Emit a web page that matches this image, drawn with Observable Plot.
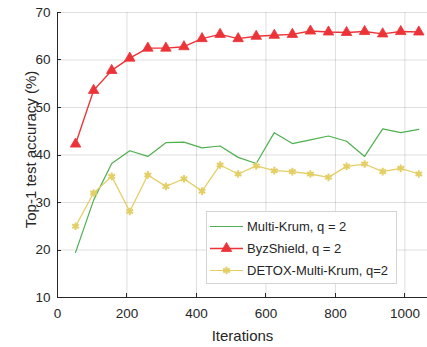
<!DOCTYPE html>
<html>
<head>
<meta charset="utf-8">
<script src="https://cdn.jsdelivr.net/npm/d3@7"></script>
<script src="https://cdn.jsdelivr.net/npm/@observablehq/plot@0.6"></script>
<style>
  html, body { margin: 0; padding: 0; background: #fff; }
  #chart { position: relative; width: 427px; height: 347px; }
</style>
</head>
<body>
<div id="chart"></div>
<script>
const iterations = [52, 104, 156, 208, 260, 312, 364, 416, 468, 520, 572, 624, 676, 728, 780, 832, 884, 936, 988, 1040];
const multiKrum = [19.5, 30.5, 38.2, 40.9, 39.7, 42.6, 42.7, 41.5, 41.9, 39.5, 38.2, 44.7, 42.4, 43.2, 44.0, 42.9, 39.7, 45.5, 44.7, 45.4];
const byzShield = [42.3, 53.6, 57.8, 60.4, 62.5, 62.5, 62.8, 64.5, 65.4, 64.5, 65.0, 65.2, 65.4, 66.1, 65.9, 65.8, 66.0, 65.5, 66.0, 65.9];
const detox = [25.0, 32.0, 35.5, 28.1, 35.8, 33.4, 35.0, 32.4, 37.9, 36.0, 37.7, 36.7, 36.5, 36.0, 35.3, 37.6, 38.1, 36.5, 37.2, 36.0];
const seriesNames = ["Multi-Krum, q = 2", "ByzShield, q = 2", "DETOX-Multi-Krum, q=2"];
const seriesColors = ["#4fb04f", "#ec3338", "#e3cf66"];
const xTicks = [0, 200, 400, 600, 800, 1000];
const yTicks = [10, 20, 30, 40, 50, 60, 70];
const xLabel = "Iterations";
const yLabel = "Top-1 test accuracy (%)";

const mk = iterations.map((x, i) => ({x, y: multiKrum[i]}));
const bz = iterations.map((x, i) => ({x, y: byzShield[i]}));
const dt = iterations.map((x, i) => ({x, y: detox[i]}));

const ink = "#262626";
const plot = Plot.plot({
  width: 427, height: 347,
  marginLeft: 57, marginRight: 0, marginTop: 12, marginBottom: 50,
  x: {domain: [0, 1065]},
  y: {domain: [10, 70]},
  style: {fontFamily: "'Liberation Sans', Arial, sans-serif", fontSize: "13.5px", color: ink, background: "#fff"},
  marks: [
    Plot.gridX(xTicks.slice(1), {stroke: ink, strokeOpacity: 0.15}),
    Plot.gridY(yTicks.slice(1), {stroke: ink, strokeOpacity: 0.15}),
    Plot.line(mk, {x: "x", y: "y", stroke: seriesColors[0], strokeWidth: 1.2}),
    Plot.line(bz, {x: "x", y: "y", stroke: seriesColors[1], strokeWidth: 1.4}),
    Plot.dot(bz, {x: "x", y: "y", symbol: "triangle", r: 3.9, fill: seriesColors[1], stroke: seriesColors[1], strokeWidth: 0.8}),
    Plot.line(dt, {x: "x", y: "y", stroke: seriesColors[2], strokeWidth: 1.3}),
    Plot.dot(dt, {x: "x", y: "y", symbol: "asterisk", r: 3.6, stroke: seriesColors[2], strokeWidth: 2}),
    Plot.axisX(xTicks, {tickSize: 0, tickPadding: 11, label: null, fill: ink, tickFormat: d => String(d)}),
    Plot.axisY(yTicks, {tickSize: 0, tickPadding: 7, label: null, fill: ink, tickFormat: d => String(d)}),
    Plot.ruleX([0], {stroke: ink}),
    Plot.ruleY([10], {stroke: ink}),
    Plot.text([xLabel], {frameAnchor: "bottom", dy: 39, lineAnchor: "middle", textAnchor: "middle", fontSize: 15, fill: ink})
  ]
});
document.getElementById("chart").appendChild(plot);

const svg = d3.select(plot);
const sx = plot.scale("x"), sy = plot.scale("y");
const x0 = sx.apply(sx.domain[0]), y0 = sy.apply(sy.domain[0]);
// inward ticks
const tg = svg.append("g").attr("stroke", ink).attr("stroke-width", 1);
xTicks.forEach(t => {
  const px = Math.round(sx.apply(t)) + 0.5;
  tg.append("line").attr("x1", px).attr("x2", px).attr("y1", y0).attr("y2", y0 - 4);
});
yTicks.forEach(t => {
  const py = Math.round(sy.apply(t)) + 0.5;
  tg.append("line").attr("x1", x0).attr("x2", x0 + 4).attr("y1", py).attr("y2", py);
});
// y-axis title
const yMid = (sy.apply(sy.domain[0]) + sy.apply(sy.domain[1])) / 2;
svg.append("text").attr("transform", `translate(31,${yMid - 5}) rotate(-90)`)
  .attr("text-anchor", "middle").attr("dy", "0.35em").attr("font-size", 15).attr("fill", ink).text(yLabel);

// Legend inside the plot area
const lg = svg.append("g").attr("font-family", "'Liberation Sans', Arial, sans-serif").attr("font-size", 13).attr("text-anchor", "start");
lg.append("rect").attr("x", 206.5).attr("y", 211.5).attr("width", 190).attr("height", 72)
  .attr("fill", "#fff").attr("stroke", "#d4d4d4").attr("stroke-width", 1);
const rowY = [226.5, 248.5, 270.5];
seriesNames.forEach((name, i) => {
  const y = rowY[i];
  lg.append("line").attr("x1", 210).attr("x2", 243).attr("y1", y).attr("y2", y)
    .attr("stroke", seriesColors[i]).attr("stroke-width", i === 1 ? 1.4 : 1.2);
  if (i === 1) {
    lg.append("path").attr("d", d3.symbol(d3.symbolTriangle, 3.9 * 3.9 * Math.PI)())
      .attr("transform", `translate(226.5,${y})`).attr("fill", seriesColors[1]).attr("stroke", seriesColors[1]).attr("stroke-width", 0.8);
  }
  if (i === 2) {
    lg.append("path").attr("d", d3.symbol(d3.symbolAsterisk, 3.6 * 3.6 * Math.PI)())
      .attr("transform", `translate(226.5,${y})`).attr("fill", "none").attr("stroke", seriesColors[2]).attr("stroke-width", 2);
  }
  lg.append("text").attr("x", 247).attr("y", y).attr("dy", "0.35em").attr("text-anchor", "start").attr("fill", ink).text(name);
});
</script>
</body>
</html>
